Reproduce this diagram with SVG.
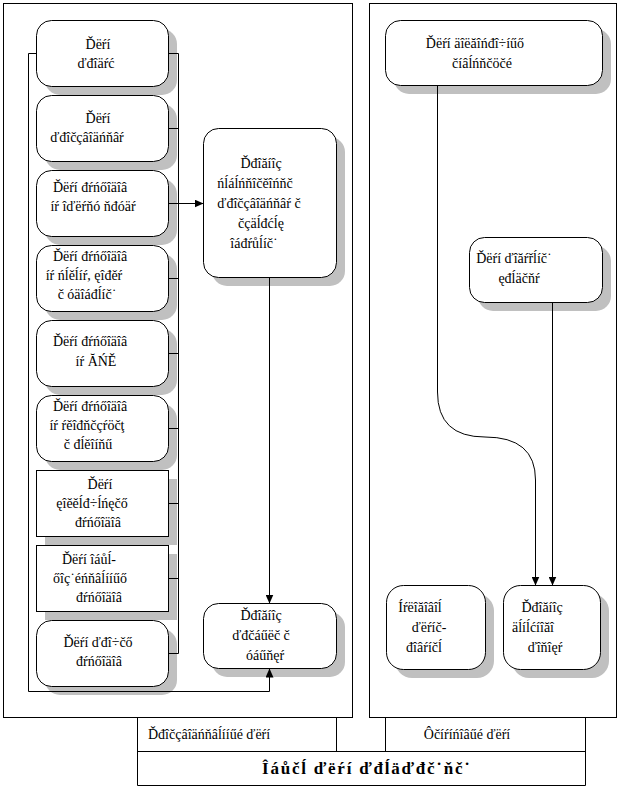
<svg xmlns="http://www.w3.org/2000/svg" width="621" height="788" viewBox="0 0 621 788">
<defs>
<marker id="ah" markerWidth="9" markerHeight="8" refX="9" refY="4" orient="auto" markerUnits="userSpaceOnUse"><path d="M0,0 L9,4 L0,8 z" fill="#000"/></marker>
</defs>
<style>
.box{fill:#fff;stroke:#000;stroke-width:1}
.sh{fill:#c0c0c0;stroke:none}
.t{font-family:"Liberation Serif","Times New Roman",serif;font-size:14px;fill:#000;text-anchor:middle}
.s{text-anchor:start}
.b{font-weight:bold;font-size:17px}
.ln{fill:none;stroke:#000;stroke-width:1}
</style>
<rect width="621" height="788" fill="#fff"/>
<g id="frames" class="ln">
<rect x="3.5" y="3.5" width="349" height="714"/>
<rect x="369.5" y="3.5" width="247" height="714"/>
<path d="M137.5,717.5 V785.5 H585.5 V717.5 M137.5,751.5 H585.5 M336.5,717.5 V751.5 M385.5,717.5 V751.5"/>
</g>
<g id="labels">
<text class="t s" x="148" y="739">Ďđîčçâîäńňâĺííűé ďëŕí</text>
<text class="t" x="467" y="739">Ôčíŕíńîâűé ďëŕí</text>
<text class="t b" x="366" y="774" textLength="208" lengthAdjust="spacing">Îáůčĺ ďëŕí ďđĺäďđč˙ňč˙</text>
</g>
<g id="n1"><rect class="sh" x="45" y="29" width="132" height="66" rx="15"/><rect class="box" x="36.5" y="20.5" width="132" height="66" rx="15"/>
<text class="t" x="98" y="49">Ďëŕí</text><text class="t" x="96" y="68">ďđîäŕć</text></g>
<g id="n2"><rect class="sh" x="45" y="104" width="132" height="66" rx="15"/><rect class="box" x="36.5" y="95.5" width="132" height="66" rx="15"/>
<text class="t" x="98" y="123">Ďëŕí</text><text class="t" x="87" y="142">ďđîčçâîäńňâŕ</text></g>
<g id="n3"><rect class="sh" x="45" y="179" width="132" height="66" rx="15"/><rect class="box" x="36.5" y="170.5" width="132" height="66" rx="15"/>
<text class="t" x="90" y="192">Ďëŕí đŕńőîäîâ</text><text class="t" x="93" y="211">íŕ îďëŕňó ňđóäŕ</text></g>
<g id="n4"><rect class="sh" x="45" y="254" width="132" height="66" rx="15"/><rect class="box" x="36.5" y="245.5" width="132" height="66" rx="15"/>
<text class="t" x="90" y="261">Ďëŕí đŕńőîäîâ</text><text class="t" x="84" y="280">íŕ ńĺěĺíŕ, ęîđěŕ</text><text class="t" x="87" y="299">č óäîáđĺíč˙</text></g>
<g id="n5"><rect class="sh" x="45" y="329" width="132" height="66" rx="15"/><rect class="box" x="36.5" y="320.5" width="132" height="66" rx="15"/>
<text class="t" x="90" y="346">Ďëŕí đŕńőîäîâ</text><text class="t" x="96" y="366">íŕ ĂŃĚ</text></g>
<g id="n6"><rect class="sh" x="45" y="404" width="132" height="66" rx="15"/><rect class="box" x="36.5" y="395.5" width="132" height="66" rx="15"/>
<text class="t" x="90" y="411">Ďëŕí đŕńőîäîâ</text><text class="t" x="87" y="430">íŕ ŕěîđňčçŕöčţ</text><text class="t" x="88" y="449">č đĺěîíňű</text></g>
<g id="n7"><rect class="sh" x="45" y="479" width="132" height="66"/><rect class="box" x="36.5" y="470.5" width="132" height="66"/>
<text class="t" x="100" y="489">Ďëŕí</text><text class="t" x="92" y="508">ęîěěĺđ÷ĺńęčő</text><text class="t" x="98" y="527">đŕńőîäîâ</text></g>
<g id="n8"><rect class="sh" x="45" y="554" width="132" height="66"/><rect class="box" x="36.5" y="545.5" width="132" height="66"/>
<text class="t" x="89" y="564">Ďëŕí îáůĺ-</text><text class="t" x="90" y="583">őîç˙éńňâĺííűő</text><text class="t" x="99" y="602">đŕńőîäîâ</text></g>
<g id="n9"><rect class="sh" x="45" y="629" width="132" height="66" rx="15"/><rect class="box" x="36.5" y="620.5" width="132" height="66" rx="15"/>
<text class="t" x="98" y="647">Ďëŕí ďđî÷čő</text><text class="t" x="99" y="666">đŕńőîäîâ</text></g>
<g id="n10"><rect class="sh" x="212" y="137" width="133" height="149" rx="15"/><rect class="box" x="203.5" y="128.5" width="133" height="149" rx="15"/>
<text class="t" x="261" y="168">Ďđîăíîç</text><text class="t" x="255" y="188">ńĺáĺńňîčěîńňč</text><text class="t" x="259" y="208">ďđîčçâîäńňâŕ č</text><text class="t" x="261" y="228">čçäĺđćĺę</text><text class="t" x="254" y="248">îáđŕůĺíč˙</text></g>
<g id="n11"><rect class="sh" x="212" y="612" width="133" height="65" rx="15"/><rect class="box" x="203.5" y="603.5" width="133" height="65" rx="15"/>
<text class="t" x="261" y="620">Ďđîăíîç</text><text class="t" x="261" y="640">ďđčáűëč č</text><text class="t" x="265" y="660">óáűňęŕ</text></g>
<g id="nA"><rect class="sh" x="394" y="29" width="217" height="65" rx="15"/><rect class="box" x="385.5" y="20.5" width="217" height="65" rx="15"/>
<text class="t" x="475" y="48">Ďëŕí äîëăîńđî÷íűő</text><text class="t" x="482" y="68">číâĺńňčöčé</text></g>
<g id="nB"><rect class="sh" x="478" y="246" width="133" height="65" rx="15"/><rect class="box" x="469.5" y="237.5" width="133" height="65" rx="15"/>
<text class="t" x="514" y="263">Ďëŕí ďîăŕřĺíč˙</text><text class="t" x="519" y="283">ęđĺäčňŕ</text></g>
<g id="nC"><rect class="sh" x="395" y="594" width="99" height="84" rx="17"/><rect class="box" x="386.5" y="585.5" width="99" height="84" rx="17"/>
<text class="t" x="420" y="612">Íŕëîăîâîĺ</text><text class="t" x="429" y="632">ďëŕíč-</text><text class="t" x="424" y="652">đîâŕíčĺ</text></g>
<g id="nD"><rect class="sh" x="512" y="594" width="97" height="84" rx="17"/><rect class="box" x="503.5" y="585.5" width="97" height="84" rx="17"/>
<text class="t" x="542" y="612">Ďđîăíîç</text><text class="t" x="533" y="632">äĺíĺćíîăî</text><text class="t" x="545" y="652">ďîňîęŕ</text></g>
<g id="connectors" class="ln">
<path d="M178.5,53.5 V653.5 M168.5,53.5 H178.5 M168.5,128.5 H178.5 M168.5,278.5 H178.5 M168.5,353.5 H178.5 M168.5,428.5 H178.5 M168.5,503.5 H178.5 M168.5,578.5 H178.5 M168.5,653.5 H178.5"/>
<path d="M168.5,203.5 H203.5" marker-end="url(#ah)"/>
<path d="M269.5,277.5 V603.5" marker-end="url(#ah)"/>
<path d="M36.5,53.5 H28.5 V691.5 H269.5 V668.5" marker-end="url(#ah)"/>
<path d="M437.5,85.5 V392 Q437.5,437 485,437 Q535.5,437 535.5,480 V585.5" marker-end="url(#ah)"/>
<path d="M552.5,302.5 V585.5" marker-end="url(#ah)"/>
</g>
</svg>
